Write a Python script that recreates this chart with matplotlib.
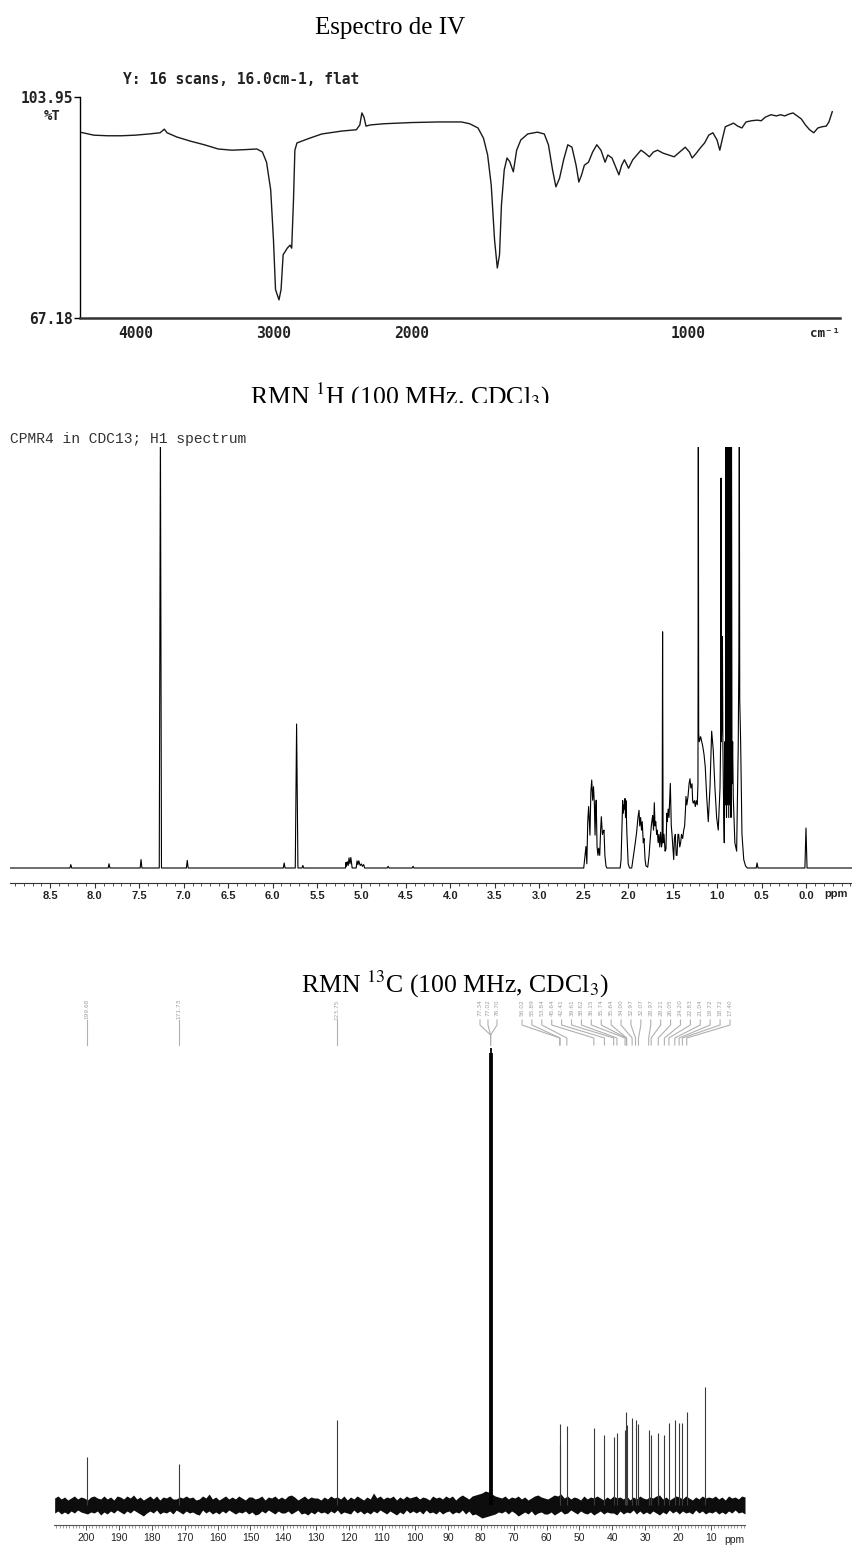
import numpy as np
import matplotlib
matplotlib.use("Agg")
import matplotlib.pyplot as plt
from matplotlib.ticker import FixedLocator, MultipleLocator
from matplotlib.patches import Rectangle

plt.rcParams['mathtext.fontset'] = 'stix'

W, H = 853, 1546

# ---------------- IR spectrum (wavenumber, %T) ----------------
ir_wn = [4400, 4300, 4200, 4100, 4000, 3900, 3820, 3790, 3770, 3700,
         3600, 3500, 3400, 3300, 3200, 3120, 3080, 3050, 3020, 3000,
         2985, 2960, 2945, 2930, 2900, 2880, 2868, 2855, 2845, 2830,
         2750, 2650, 2500, 2400, 2375, 2360, 2345, 2330, 2300, 2200,
         2100, 2000, 1900, 1820, 1790, 1760, 1740, 1725, 1712, 1700,
         1690, 1682, 1675, 1665, 1655, 1645, 1632, 1620, 1605, 1580,
         1545, 1520, 1505, 1490, 1478, 1465, 1450, 1435, 1420, 1405,
         1395, 1385, 1375, 1360, 1345, 1330, 1315, 1300, 1290, 1275,
         1260, 1250, 1240, 1230, 1215, 1200, 1185, 1170, 1155, 1140,
         1125, 1110, 1090, 1070, 1050, 1030, 1010, 995, 985, 970,
         955, 940, 925, 910, 895, 885, 875, 865, 850, 835,
         820, 805, 790, 770, 750, 735, 720, 700, 680, 665,
         650, 635, 620, 605, 590, 575, 560, 545, 530, 515,
         500, 490, 478]
ir_t = [98.1, 97.6, 97.5, 97.5, 97.6, 97.8, 98.0, 98.6, 98.0, 97.3,
        96.6, 96.0, 95.3, 95.1, 95.2, 95.3, 94.8, 93.1, 88.5, 80.2,
        71.9, 70.2, 71.9, 77.7, 78.8, 79.3, 78.8, 86.8, 95.1, 96.3,
        97.0, 97.8, 98.3, 98.5, 99.3, 101.3, 100.6, 99.1, 99.3, 99.5,
        99.6, 99.7, 99.8, 99.8, 99.5, 98.8, 97.1, 94.3, 89.3, 80.2,
        75.5, 77.7, 86.0, 91.8, 93.8, 93.2, 91.5, 95.1, 96.8, 97.8,
        98.1, 97.8, 96.0, 91.8, 89.0, 90.4, 93.5, 96.0, 95.6, 92.6,
        89.8, 91.0, 92.6, 93.1, 94.8, 96.0, 95.1, 93.1, 94.3, 93.8,
        92.1, 91.0, 92.6, 93.5, 92.1, 93.5, 94.3, 95.1, 94.6, 94.0,
        94.8, 95.1, 94.6, 94.3, 94.0, 94.8, 95.6, 94.8, 93.8, 94.6,
        95.5, 96.3, 97.6, 98.0, 96.8, 95.1, 97.1, 99.0, 99.3, 99.6,
        99.1, 98.8, 99.8, 100.0, 100.1, 100.0, 100.6, 101.0, 100.8, 101.0,
        100.8, 101.1, 101.3, 100.8, 100.3, 99.3, 98.5, 98.0, 98.8, 99.0,
        99.1, 99.8, 101.5]
ir_ticks = [4000, 3000, 2000, 1000]

# ---------------- 1H NMR trace (ppm, relative intensity) ----------------
h_a_ppm = [8.954, 8.28, 8.27, 8.26, 7.85, 7.84, 7.83, 7.49, 7.48, 7.47,
           7.275, 7.262, 7.25, 6.97, 6.96, 6.95, 5.88, 5.87, 5.86, 5.745,
           5.73, 5.715, 5.67, 5.66, 5.65]
h_a_int = [0, 0, 0.008, 0, 0, 0.01, 0, 0, 0.02, 0,
           0, 1.05, 0, 0, 0.018, 0, 0, 0.012, 0, 0,
           0.342, 0, 0, 0.006, 0]
h_b_ppm = [5.18, 5.175, 5.17, 5.16, 5.15, 5.14, 5.13, 5.12, 5.105, 5.06,
           5.05, 5.04, 5.03, 5.015, 5.0, 4.99, 4.975, 4.965, 4.71, 4.70,
           4.69, 4.43, 4.42, 4.41]
h_b_int = [0, 0.013, 0.004, 0.015, 0.006, 0.024, 0.01, 0.025, 0, 0,
           0.017, 0.008, 0.017, 0.006, 0.0095, 0.004, 0.008, 0, 0, 0.004,
           0, 0, 0.004, 0]
h_c_ppm = [2.50, 2.49, 2.475, 2.465, 2.455, 2.445, 2.43, 2.42, 2.41, 2.40,
           2.39, 2.38, 2.373, 2.365, 2.36, 2.35, 2.34, 2.332, 2.32, 2.31,
           2.302, 2.29, 2.28, 2.272, 2.262, 2.25, 2.24]
h_c_int = [0, 0.02, 0.051, 0.01, 0.11, 0.146, 0.078, 0.18, 0.209, 0.161,
           0.193, 0.15, 0.078, 0.14, 0.161, 0.05, 0.03, 0.047, 0.03, 0.09,
           0.122, 0.08, 0.087, 0.09, 0.03, 0.005, 0]
h_d_ppm = [2.09, 2.08, 2.07, 2.062, 2.055, 2.047, 2.04, 2.036, 2.03, 2.025,
           2.015, 2.0, 1.985, 1.96, 1.94, 1.92, 1.905, 1.89, 1.878, 1.87,
           1.86, 1.85, 1.842, 1.83, 1.822, 1.81, 1.80, 1.78]
h_d_int = [0, 0.02, 0.1, 0.16, 0.13, 0.15, 0.14, 0.165, 0.12, 0.16,
           0.085, 0.01, 0, 0, 0.03, 0.06, 0.085, 0.12, 0.137, 0.1,
           0.12, 0.09, 0.11, 0.06, 0.07, 0.02, 0.005, 0.002]
h_e_ppm = [1.765, 1.755, 1.74, 1.725, 1.715, 1.706, 1.698, 1.69, 1.68, 1.673,
           1.663, 1.654, 1.645, 1.635, 1.625, 1.618, 1.613, 1.607, 1.597, 1.585,
           1.575, 1.565, 1.56, 1.55, 1.541, 1.533, 1.526, 1.515, 1.507, 1.495,
           1.488, 1.48, 1.47, 1.46, 1.451, 1.44, 1.432, 1.42, 1.41, 1.40,
           1.387, 1.375, 1.365, 1.355, 1.35, 1.34, 1.327, 1.315, 1.305, 1.295,
           1.282, 1.275, 1.268, 1.255, 1.245, 1.235, 1.223]
h_e_int = [0.03, 0.06, 0.1, 0.125, 0.09, 0.155, 0.1, 0.11, 0.08, 0.09,
           0.06, 0.08, 0.05, 0.085, 0.05, 0.06, 0.561, 0.06, 0.08, 0.04,
           0.045, 0.13, 0.11, 0.14, 0.12, 0.16, 0.201, 0.1, 0.08, 0.04,
           0.02, 0.07, 0.08, 0.03, 0.03, 0.08, 0.08, 0.05, 0.06, 0.08,
           0.07, 0.09, 0.1, 0.14, 0.17, 0.15, 0.17, 0.2, 0.212, 0.19,
           0.2, 0.16, 0.154, 0.16, 0.146, 0.16, 0.15]
h_f_ppm = [1.215, 1.211, 1.207, 1.2, 1.185, 1.162, 1.147, 1.133, 1.117, 1.099,
           1.08, 1.061, 1.043, 1.024, 1.005, 0.987, 0.967, 0.96, 0.956, 0.952,
           0.945, 0.94, 0.935, 0.925, 0.919, 0.912, 0.905, 0.9, 0.894, 0.888,
           0.882, 0.875, 0.869, 0.862, 0.856, 0.85, 0.844, 0.838, 0.832, 0.825,
           0.818, 0.8, 0.78, 0.762, 0.755, 0.75, 0.745, 0.735, 0.72, 0.70,
           0.68, 0.66, 0.56, 0.55, 0.54, 0.012, 0.0, -0.012, -0.529]
h_f_int = [0.2, 1.1, 0.32, 0.3, 0.312, 0.29, 0.27, 0.24, 0.17, 0.11,
           0.19, 0.325, 0.28, 0.19, 0.12, 0.09, 0.19, 0.3, 0.926, 0.3,
           0.35, 0.55, 0.3, 0.12, 0.06, 0.3, 0.15, 1.1, 0.12, 1.1,
           0.15, 1.1, 0.12, 1.1, 0.15, 1.1, 0.12, 1.1, 0.2, 0.3,
           0.17, 0.06, 0.04, 0.29, 0.5, 1.1, 0.4, 0.3, 0.08, 0.02,
           0.005, 0, 0, 0.012, 0, 0, 0.095, 0, 0]
h_ticks = [8.5, 8.0, 7.5, 7.0, 6.5, 6.0, 5.5, 5.0, 4.5, 4.0,
           3.5, 3.0, 2.5, 2.0, 1.5, 1.0, 0.5, 0.0]

# ---------------- 13C NMR (ppm, peak height) ----------------
c_ppm = [199.68, 171.73, 123.75, 56.02, 55.89, 53.84, 45.64, 42.41, 39.61, 38.62,
         36.15, 35.74, 35.64, 34.00, 32.97, 32.07, 28.97, 28.21, 26.05, 24.20,
         22.83, 21.04, 19.72, 18.72, 17.40, 11.97]
c_height = [48, 41, 85, 81, 60, 79, 77, 70, 68, 72,
            75, 93, 80, 87, 85, 81, 75, 70, 72, 70,
            82, 85, 82, 82, 93, 118]
solv_ppm = [77.34, 77.02, 76.70]
solv_height = [452, 457, 452]
# noise band edges read every ~1 ppm, one hex digit per point (px above / below baseline)
noise_hi = [int(c, 16) for c in
            "7968579687" "5897696859" "8697a68579" "6958796687" "9785697b68"
            "5796869758" "8679587968" "69a8579687" "7586978695" "8697586c79"
            "6879586978" "9687597869" "7958a869ab" "cedb987968" "7968579a87"
            "68a9b79687" "5968797586" "9786958697" "6879a68579" "8697586978"
            "7968597869" "8"]
noise_lo = [-int(c, 16) for c in
            "8697968578" "9786a79685" "7968579b86" "8597869579" "6879a58697"
            "9685797869" "7a96857968" "8697598a79" "6879685978" "9586979685"
            "7968a79586" "8695879697" "6978596a9b" "dcba978696" "8b9796a879"
            "97a8698579" "6897a86978" "8a69785969" "7968a79586" "9687958697"
            "8697968587" "9"]
c_ticks = list(range(200, 0, -10))


fig = plt.figure(figsize=(W / 100, H / 100), dpi=100)


def add_ax(left, top, right, bottom):
    return fig.add_axes([left / W, 1 - bottom / H, (right - left) / W, (bottom - top) / H])


def ftext(x, y, s, **kw):
    return fig.text(x / W, 1 - y / H, s, **kw)


def clean(ax):
    for s in ['top', 'right', 'left']:
        ax.spines[s].set_visible(False)
    ax.set_facecolor('none')


# ======================= IR =======================
ftext(390, 34, 'Espectro de IV', ha='center', va='baseline',
      family='Liberation Serif', size=18)
ftext(123, 80, 'Y: 16 scans, 16.0cm-1, flat', va='center',
      family='DejaVu Sans Mono', weight='bold', size=10.5, color='#222222')


def fwd(w):
    w = np.asarray(w, float)
    return np.where(w >= 2000, w, 2 * w - 2000)


def inv(f):
    f = np.asarray(f, float)
    return np.where(f >= 2000, f, (f + 2000) / 2)


ax1 = add_ax(80, 97, 840, 318)
ax1.set_xscale('function', functions=(fwd, inv))
ax1.plot(ir_wn, ir_t, color='#1a1a1a', lw=1.0)
ax1.set_xlim(4400, 450)
ax1.set_ylim(67.18, 103.95)
ax1.spines['top'].set_visible(False)
ax1.spines['right'].set_visible(False)
ax1.spines['left'].set_linewidth(1.0)
ax1.spines['bottom'].set_linewidth(1.8)
ax1.spines['bottom'].set_color('#333333')
ax1.xaxis.set_major_locator(FixedLocator(ir_ticks))
ax1.xaxis.set_minor_locator(FixedLocator([]))
ax1.set_xticklabels([str(t) for t in ir_ticks])
ax1.set_yticks([67.18, 103.95])
ax1.set_yticklabels(['67.18', '103.95'])
ax1.tick_params(axis='x', length=0, pad=6)
ax1.tick_params(axis='y', length=4, width=1, pad=1)
for lab in ax1.get_xticklabels() + ax1.get_yticklabels():
    lab.set_family('DejaVu Sans Mono')
    lab.set_weight('bold')
    lab.set_fontsize(10.5)
    lab.set_color('#222222')
ax1.text(-0.025, 100.8, '%T', transform=ax1.get_yaxis_transform(), ha='right', va='center',
         family='DejaVu Sans Mono', weight='bold', size=10, color='#222222')
ax1.text(505, -0.068, 'cm⁻¹', transform=ax1.get_xaxis_transform(), ha='center', va='center',
         family='DejaVu Sans Mono', weight='bold', size=9, color='#222222')

# ======================= 1H =======================
ftext(400, 405, r'RMN $^{1}$H (100 MHz. CDCl$_{3}$)', ha='center', va='baseline',
      family='Liberation Serif', size=18.5, zorder=1)
# the scanned title is cut just above its baseline
fig.patches.append(Rectangle((0, 1 - 428 / H), 1, 25 / H, transform=fig.transFigure,
                             facecolor='white', edgecolor='none', zorder=2))
ftext(10, 439, 'CPMR4 in CDC13; H1 spectrum', va='center', zorder=3,
      family='Liberation Mono', size=10.5, color='#333333')

h_ppm = h_a_ppm + h_b_ppm + h_c_ppm + h_d_ppm + h_e_ppm + h_f_ppm
h_int = h_a_int + h_b_int + h_c_int + h_d_int + h_e_int + h_f_int

ax2 = add_ax(10, 447, 853, 883)
clean(ax2)
ax2.plot(h_ppm, h_int, color='black', lw=0.8)
ax2.set_xlim(8.954, -0.529)
ax2.set_ylim(-15 / 421, 1.0)
ax2.set_yticks([])
ax2.spines['bottom'].set_linewidth(0.8)
ax2.spines['bottom'].set_color('#333333')
ax2.xaxis.set_major_locator(FixedLocator(h_ticks))
ax2.xaxis.set_minor_locator(MultipleLocator(0.1))
ax2.set_xticklabels(['%.1f' % t for t in h_ticks])
ax2.tick_params(axis='x', which='major', length=3.5, width=0.8, pad=2, color='#333333')
ax2.tick_params(axis='x', which='minor', length=2, width=0.6, color='#333333')
for lab in ax2.get_xticklabels():
    lab.set_family('Liberation Sans')
    lab.set_weight('bold')
    lab.set_fontsize(8)
    lab.set_color('#222222')
ax2.text(-0.34, -0.025, 'ppm', transform=ax2.get_xaxis_transform(), ha='center', va='center',
         family='Liberation Sans', weight='bold', size=8, color='#222222')

# ======================= 13C =======================
ftext(455, 993, r'RMN $^{13}$C (100 MHz, CDCl$_{3}$)', ha='center', va='baseline',
      family='Liberation Serif', size=18.5)

ax3 = add_ax(54, 960, 745, 1525)
clean(ax3)
c_left, c_right = 209.7, -0.3
ax3.set_xlim(c_left, c_right)
ax3.set_ylim(-20, 545)
ax3.set_yticks([])


def px2ppm(px):
    return c_left - (px - 54) / 691 * (c_left - c_right)


noise_x = np.linspace(209.5, -0.3, len(noise_hi))
ax3.fill_between(noise_x, noise_lo, noise_hi, color='#0d0d0d', lw=0)
ax3.vlines(c_ppm, 0, c_height, color='#3a3a3a', lw=0.8)
ax3.vlines(solv_ppm, 0, solv_height, color='black', lw=1.3)

ax3.spines['bottom'].set_linewidth(0.8)
ax3.spines['bottom'].set_color('#555555')
ax3.xaxis.set_major_locator(FixedLocator(c_ticks))
ax3.xaxis.set_minor_locator(MultipleLocator(1))
ax3.set_xticklabels([str(t) for t in c_ticks])
ax3.tick_params(axis='x', which='major', length=3.5, width=0.7, pad=2, color='#555555')
ax3.tick_params(axis='x', which='minor', length=2.2, width=0.5, color='#777777')
for lab in ax3.get_xticklabels():
    lab.set_family('Liberation Sans')
    lab.set_fontsize(7.5)
    lab.set_color('#222222')
ax3.text(px2ppm(734), -0.026, 'ppm', transform=ax3.get_xaxis_transform(), ha='center', va='center',
         family='Liberation Sans', size=7.5, color='#222222')

lab_kw = dict(rotation=90, ha='center', va='top', family='DejaVu Sans', size=4.2,
              color='#a0a0a0', clip_on=False)
line_kw = dict(color='#b0b0b0', lw=0.8, clip_on=False)
y_lab, y_l1, y_l2, y_l3, y_end = 506, 485, 480, 467, 460

# isolated peaks
for p in c_ppm[:3]:
    ax3.text(p, y_lab, '%.2f' % p, **lab_kw)
    ax3.plot([p, p], [y_l1, y_end], **line_kw)

# solvent triplet
for p, lx in zip(solv_ppm, [480, 488, 497]):
    xx = px2ppm(lx)
    ax3.text(xx, y_lab, '%.2f' % p, **lab_kw)
    ax3.plot([xx, xx, 77.02, 77.02], [y_l1, y_l2, y_l3 + 3, y_end], **line_kw)

# aliphatic peaks
ali = c_ppm[3:-1]
lxs = np.linspace(px2ppm(522), px2ppm(730), len(ali))
for p, xx in zip(ali, lxs):
    ax3.text(xx, y_lab, '%.2f' % p, **lab_kw)
    ax3.plot([xx, xx, p, p], [y_l1, y_l2, y_l3, y_end], **line_kw)

fig.savefig('out.png', dpi=100)
